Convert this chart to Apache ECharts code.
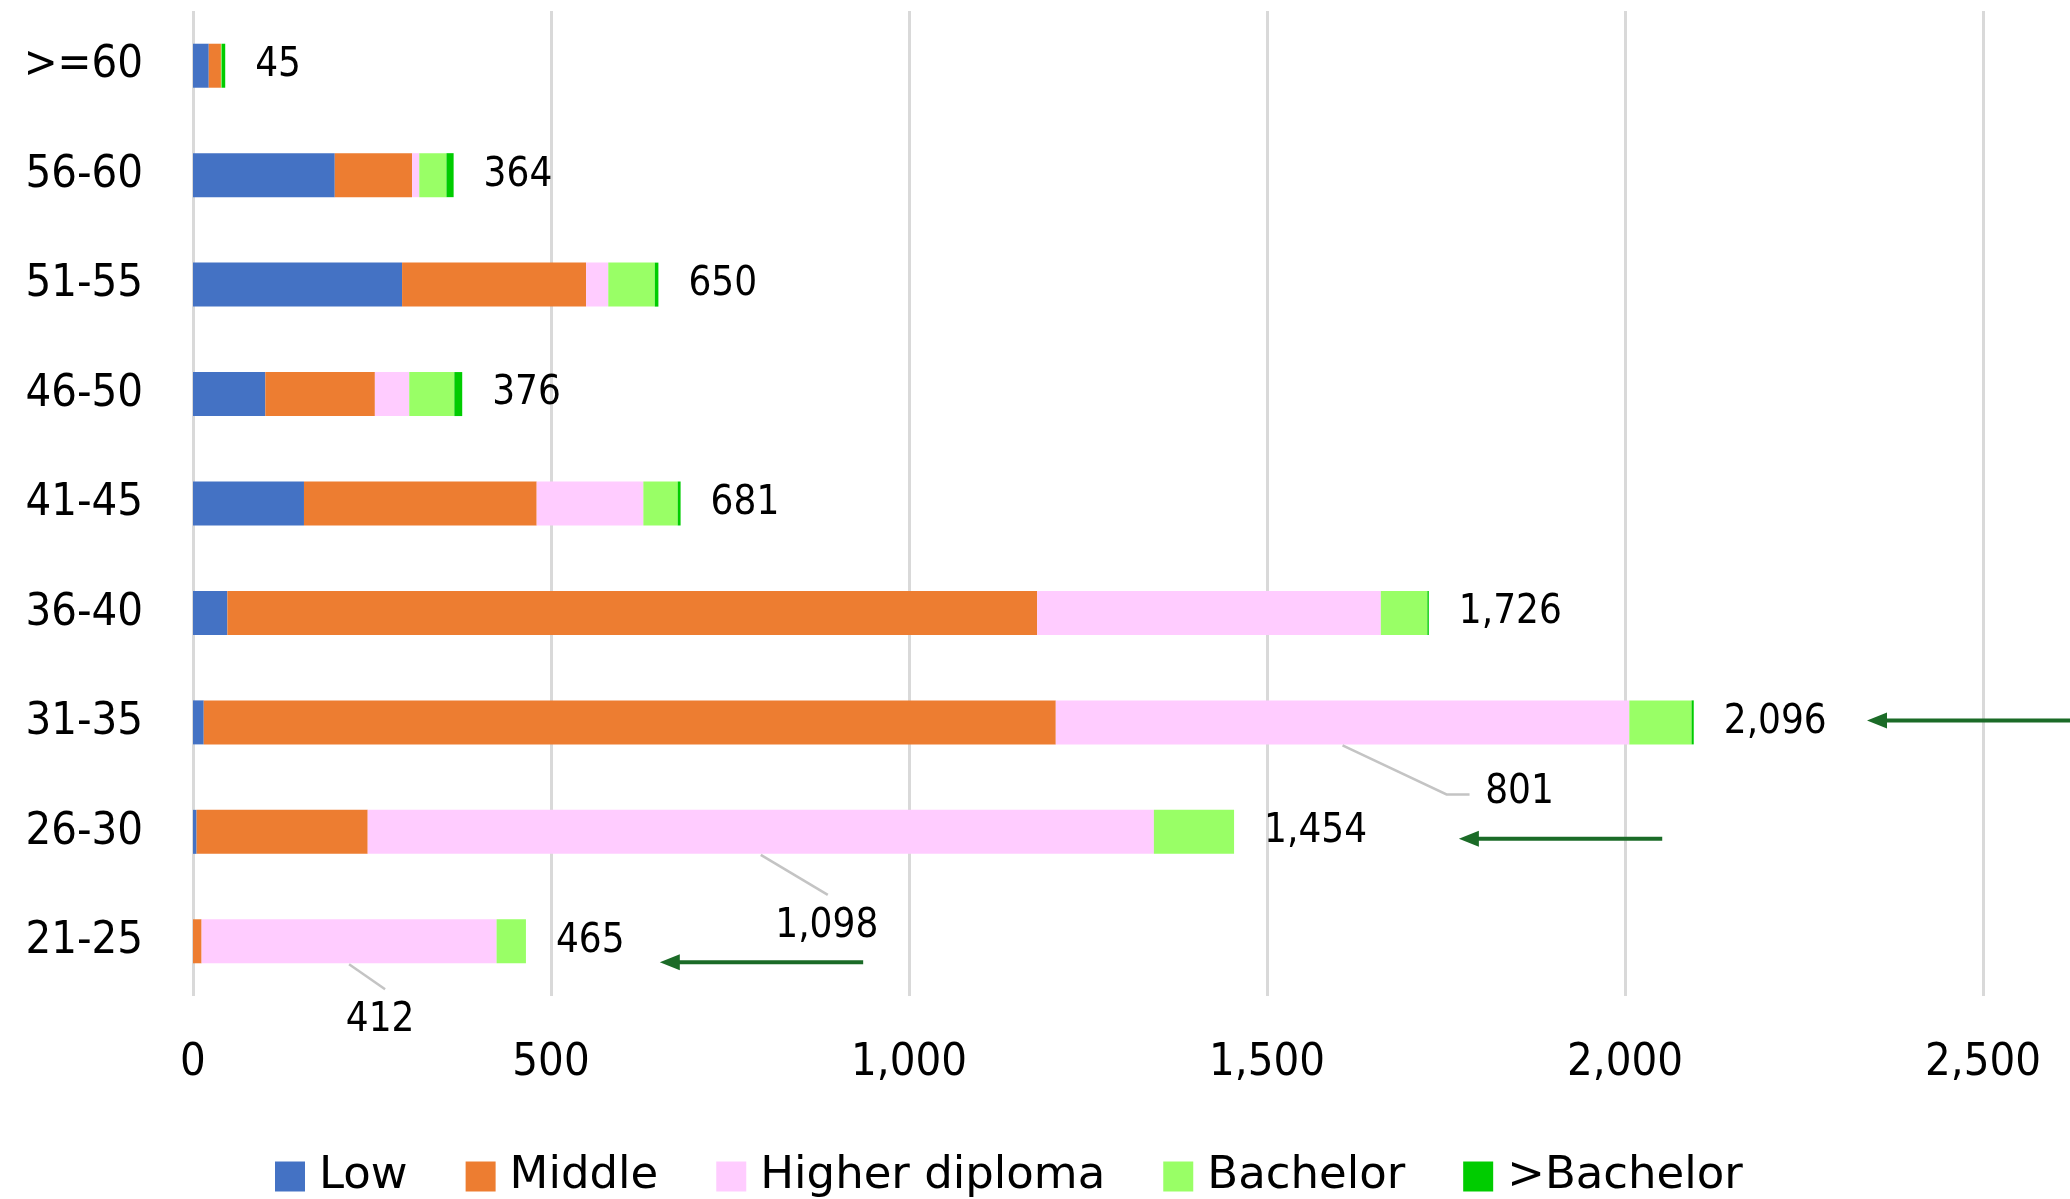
<!DOCTYPE html>
<html>
<head>
<meta charset="utf-8">
<script src="https://cdn.jsdelivr.net/npm/echarts@6/dist/echarts.min.js"></script>
<style>
  html, body { margin: 0; padding: 0; background: #fff; }
  #chart { width: 2070px; height: 1199px; }
</style>
</head>
<body>
<div id="chart"></div>
<script>
// Age groups, bottom to top
const ageGroups = ['21-25', '26-30', '31-35', '36-40', '41-45', '46-50', '51-55', '56-60', '>=60'];

// Head counts by education level
const low           = [0,   5,    15,   48,   155, 101, 292, 198, 22];
const middle        = [12,  239,  1190, 1131, 325, 153, 257, 108, 17];
const higherDiploma = [412, 1098, 801,  480,  149, 48,  31,  10,  0];
const bachelor      = [41,  112,  87,   65,   48,  63,  65,  38,  1];
const aboveBachelor = [0,   0,    3,    2,    4,   11,  5,   10,  5];

const seriesNames = ['Low', 'Middle', 'Higher diploma', 'Bachelor', '>Bachelor'];
const xTicks = [0, 500, 1000, 1500, 2000, 2500];

// Higher-diploma segments that carry a call-out label
const calloutGroups = ['21-25', '26-30', '31-35'];

// Call-out label placement (pixels, relative to the segment centre) and leader line shape
// (bend / end are relative to the label centre)
const calloutLayout = {
  '31-35': { dx: 177, dy: 70, bend: [-73, 2], end: [-50, 2] },
  '26-30': { dx: 66,  dy: 95, end: [1, -32] },
  '21-25': { dx: 31,  dy: 79, end: [5, -31] }
};

// Arrows pointing at the group totals (values on the x scale)
const arrows = [
  { group: '31-35', from: 2630, to: 2338, dy: -2 },
  { group: '26-30', from: 2052, to: 1768, dy: 7 },
  { group: '21-25', from: 936,  to: 652,  dy: 21 }
];

const colors = ['#4472C4', '#ED7D31', '#FFCCFF', '#99FF66', '#00CC00'];
const values = [low, middle, higherDiploma, bachelor, aboveBachelor];
const totals = ageGroups.map((_, i) => values.reduce((s, arr) => s + arr[i], 0));
const BAR_WIDTH = 44;

const fmt = v => Number(v).toLocaleString('en-US');
const condensed = "'DejaVu Sans Condensed', 'DejaVu Sans', sans-serif";

const chart = echarts.init(document.getElementById('chart'), null, { renderer: 'canvas' });

const series = seriesNames.map((name, k) => {
  const s = {
    name,
    type: 'bar',
    stack: 'total',
    barWidth: BAR_WIDTH,
    itemStyle: { color: colors[k] },
    emphasis: { disabled: true },
    data: values[k].slice()
  };
  if (k === 2) {
    s.data = values[k].map((v, i) => calloutGroups.includes(ageGroups[i])
      ? { value: v, label: { show: true } }
      : v);
    s.label = {
      show: false,
      formatter: p => fmt(p.value),
      fontSize: 40,
      fontFamily: condensed,
      color: '#000'
    };
    s.labelLayout = function (p) {
      const cfg = calloutLayout[ageGroups[p.dataIndex]];
      if (!cfg) return {};
      const cx = p.rect.x + p.rect.width / 2;
      const cy = p.rect.y + p.rect.height / 2;
      return { x: cx + cfg.dx, y: cy + cfg.dy, align: 'center', verticalAlign: 'middle' };
    };
  }
  if (k === 4) {
    s.label = {
      show: true,
      position: 'right',
      distance: 30,
      formatter: p => fmt(totals[p.dataIndex]),
      fontSize: 40,
      fontFamily: condensed,
      color: '#000'
    };
  }
  return s;
});

chart.setOption({
  backgroundColor: '#fff',
  animation: false,
  grid: { left: 193, right: 87, top: 11, bottom: 203, containLabel: false, outerBoundsMode: 'none' },
  xAxis: {
    type: 'value',
    min: xTicks[0],
    max: xTicks[xTicks.length - 1],
    interval: xTicks[1] - xTicks[0],
    axisLine: { show: false },
    axisTick: { show: false },
    splitLine: { show: true, lineStyle: { color: '#d9d9d9', width: 3 } },
    axisLabel: { formatter: fmt, fontSize: 45, fontFamily: condensed, color: '#000', margin: 45 }
  },
  yAxis: {
    type: 'category',
    data: ageGroups,
    axisLine: { show: false },
    axisTick: { show: false },
    axisLabel: { fontSize: 45, fontFamily: condensed, color: '#000', margin: 50 }
  },
  legend: {
    data: seriesNames,
    left: 270,
    top: 1149,
    icon: 'rect',
    itemWidth: 30,
    itemHeight: 30,
    itemGap: 58,
    textStyle: { fontSize: 45, fontFamily: "'DejaVu Sans', sans-serif", color: '#000', padding: [0, 0, 0, 9] },
    selectedMode: false
  },
  series
});

const graphics = [];

// Leader lines from the higher-diploma segments to their call-out labels
calloutGroups.forEach(g => {
  const i = ageGroups.indexOf(g);
  const cfg = calloutLayout[g];
  const mid = low[i] + middle[i] + higherDiploma[i] / 2;
  const cx = chart.convertToPixel({ xAxisIndex: 0 }, mid);
  const cy = chart.convertToPixel({ yAxisIndex: 0 }, g);
  const lx = cx + cfg.dx, ly = cy + cfg.dy;
  const start = [cx, cy + BAR_WIDTH / 2 + 1];
  const end = [lx + cfg.end[0], ly + cfg.end[1]];
  const pts = cfg.bend ? [start, [lx + cfg.bend[0], ly + cfg.bend[1]], end] : [start, end];
  graphics.push({
    type: 'polyline', z: 90,
    shape: { points: pts },
    style: { stroke: '#c4c4c4', lineWidth: 2.5, fill: null }
  });
});

// Pointer arrows, positioned through the chart's own scales
const arrowColor = '#1B6B27';
arrows.forEach(a => {
  const y = chart.convertToPixel({ yAxisIndex: 0 }, a.group) + a.dy;
  const x1 = chart.convertToPixel({ xAxisIndex: 0 }, a.from);
  const x2 = chart.convertToPixel({ xAxisIndex: 0 }, a.to);
  const headLen = 20, headHalf = 8;
  graphics.push({
    type: 'line', z: 100,
    shape: { x1: x1, y1: y, x2: x2 + headLen - 2, y2: y },
    style: { stroke: arrowColor, lineWidth: 4 }
  });
  graphics.push({
    type: 'polygon', z: 100,
    shape: { points: [[x2, y], [x2 + headLen, y - headHalf], [x2 + headLen, y + headHalf]] },
    style: { fill: arrowColor }
  });
});
chart.setOption({ graphic: graphics });
</script>
</body>
</html>
